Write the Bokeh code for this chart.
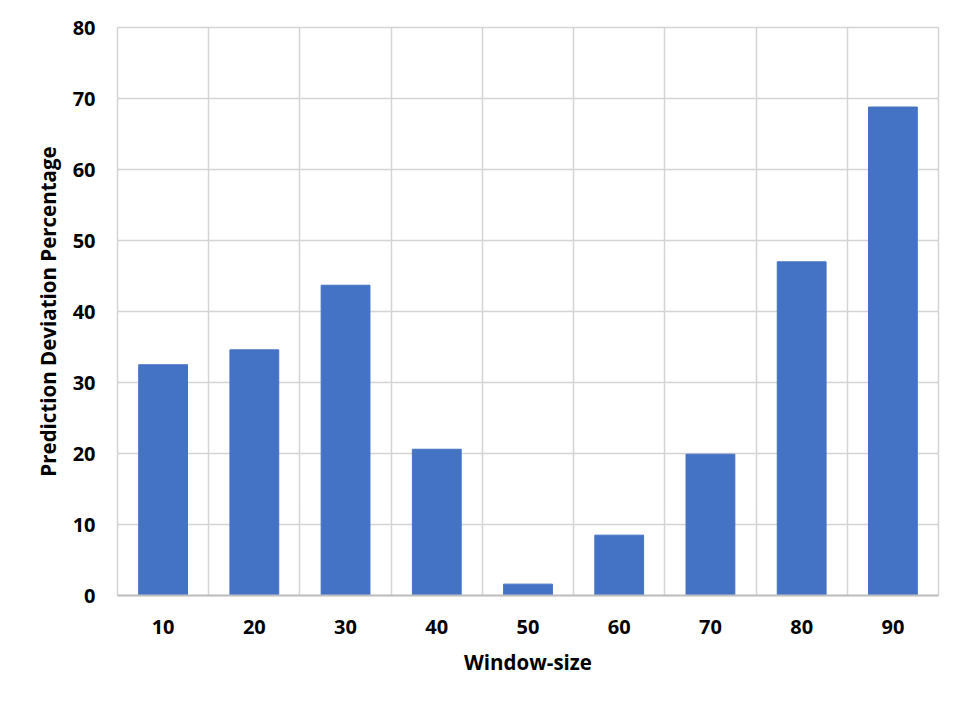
from bokeh.plotting import figure
from bokeh.models import FixedTicker, ColumnDataSource
from bokeh.embed import file_html
from bokeh.resources import INLINE

# Data
window_sizes = ["10", "20", "30", "40", "50", "60", "70", "80", "90"]
deviation = [32.5, 34.6, 43.7, 20.6, 1.6, 8.5, 19.9, 47.0, 68.8]
y_ticks = [0, 10, 20, 30, 40, 50, 60, 70, 80]

xpos = [i + 0.5 for i in range(len(window_sizes))]
src = ColumnDataSource(dict(x=xpos, top=deviation))

p = figure(width=958, height=700, output_backend="svg", toolbar_location=None,
           x_range=(0, len(window_sizes)), y_range=(0, 80),
           min_border_left=117, min_border_right=20, min_border_top=27, min_border_bottom=105)
p.outline_line_color = "#d4d4d4"
p.outline_line_width = 1.5
p.background_fill_color = "white"
p.border_fill_color = "white"

p.vbar(x="x", top="top", width=0.535, bottom=0, source=src,
       fill_color="#4472C4", line_color="#4472C4")

FONT = "Open Sans"

# x axis
p.xaxis.ticker = FixedTicker(ticks=xpos)
p.xaxis.major_label_overrides = {x: s for x, s in zip(xpos, window_sizes)}
p.xaxis.major_tick_line_color = None
p.xaxis.minor_tick_line_color = None
p.xaxis.axis_line_color = "#bfbfbf"
p.xaxis.axis_line_width = 2
p.xaxis.major_label_text_font = FONT
p.xaxis.major_label_text_font_style = "bold"
p.xaxis.major_label_text_font_size = "20px"
p.xaxis.major_label_text_color = "black"
p.xaxis.major_label_standoff = 18
p.xaxis.axis_label = "Window-size"
p.xaxis.axis_label_text_font = FONT
p.xaxis.axis_label_text_font_style = "bold"
p.xaxis.axis_label_text_font_size = "20.5px"
p.xaxis.axis_label_text_color = "black"
p.xaxis.axis_label_standoff = 11

# y axis
p.yaxis.ticker = FixedTicker(ticks=y_ticks)
p.yaxis.axis_line_color = None
p.yaxis.major_tick_line_color = None
p.yaxis.minor_tick_line_color = None
p.yaxis.major_label_text_font = FONT
p.yaxis.major_label_text_font_style = "bold"
p.yaxis.major_label_text_font_size = "20px"
p.yaxis.major_label_text_color = "black"
p.yaxis.major_label_standoff = 16
p.yaxis.axis_label = "Prediction Deviation Percentage"
p.yaxis.axis_label_text_font = FONT
p.yaxis.axis_label_text_font_style = "bold"
p.yaxis.axis_label_text_font_size = "20.5px"
p.yaxis.axis_label_text_color = "black"
p.yaxis.axis_label_standoff = 8

# grids
p.xgrid.ticker = FixedTicker(ticks=list(range(len(window_sizes) + 1)))
p.xgrid.grid_line_color = "#d4d4d4"
p.xgrid.grid_line_width = 1.5
p.ygrid.ticker = FixedTicker(ticks=y_ticks)
p.ygrid.grid_line_color = "#d4d4d4"
p.ygrid.grid_line_width = 1.5

open("out.html", "w").write(file_html(p, INLINE))
